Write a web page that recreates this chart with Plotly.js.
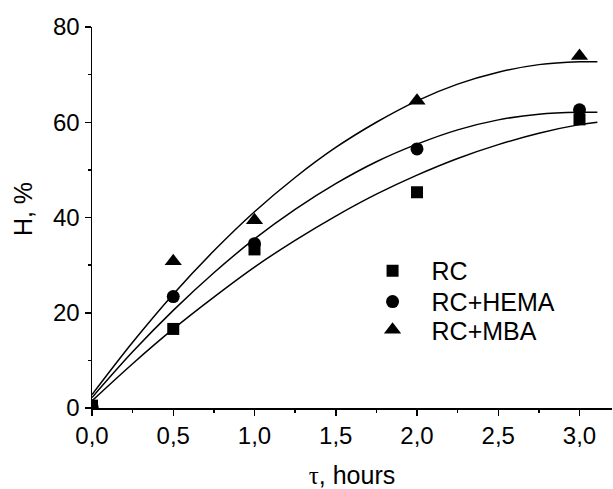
<!DOCTYPE html>
<html>
<head>
<meta charset="utf-8">
<script src="https://cdn.plot.ly/plotly-3.0.1.min.js"></script>
<style>html,body{margin:0;padding:0;background:#fff;}#chart{width:613px;height:489px;}</style>
</head>
<body>
<div id="chart"></div>
<script>
// Measured points
const timeHours = [0, 0.5, 1.0, 2.0, 3.0];
const hRC = [0.5, 16.6, 33.3, 45.3, 60.6];
const hHEMA = [0.3, 23.4, 34.5, 54.4, 62.6];
const hMBA = [0.3, 30.8, 39.4, 64.5, 73.9];

// Fitted curves
const curveX = [0, 0.25, 0.5, 0.75, 1.0, 1.25, 1.5, 1.75, 2.0, 2.25, 2.5, 2.75, 3.0, 3.11];
const curveRC = [1.5, 9.3, 16.6, 23.3, 29.6, 35.2, 40.3, 44.9, 48.9, 52.4, 55.3, 57.7, 59.5, 60.0];
const curveHEMA = [2.2, 11.8, 20.5, 28.4, 35.5, 41.7, 47.1, 51.7, 55.4, 58.4, 60.5, 61.7, 62.1, 62.1];
const curveMBA = [2.8, 13.8, 23.9, 33.0, 41.2, 48.4, 54.7, 60.0, 64.5, 68.0, 70.5, 72.1, 72.7, 72.7];

const seriesNames = ['RC', 'RC+HEMA', 'RC+MBA'];

const xTickVals = [0, 0.5, 1.0, 1.5, 2.0, 2.5, 3.0];
const xTickText = ['0,0', '0,5', '1,0', '1,5', '2,0', '2,5', '3,0'];
const yTickVals = [0, 20, 40, 60, 80];
const yTickText = ['0', '20', '40', '60', '80'];

const lineStyle = {color: '#000', width: 1.5, shape: 'spline'};
const traces = [
  {x: curveX, y: curveRC, mode: 'lines', line: lineStyle, showlegend: false, hoverinfo: 'skip'},
  {x: curveX, y: curveHEMA, mode: 'lines', line: lineStyle, showlegend: false, hoverinfo: 'skip'},
  {x: curveX, y: curveMBA, mode: 'lines', line: lineStyle, showlegend: false, hoverinfo: 'skip'},
  {x: timeHours, y: hRC, mode: 'markers', name: seriesNames[0], legend: 'legend', marker: {symbol: 'square', size: 12, color: '#000'}},
  {x: timeHours, y: hHEMA, mode: 'markers', name: seriesNames[1], legend: 'legend2', marker: {symbol: 'circle', size: 13, color: '#000'}},
  {x: timeHours, y: hMBA, mode: 'markers', name: seriesNames[2], legend: 'legend3', marker: {symbol: 'triangle-up', size: 15, color: '#000'}}
];

const fontFam = '"Liberation Sans", Arial, sans-serif';
function legendAt(y) {
  return {x: 0.503, y: y, xanchor: 'left', yanchor: 'top', bgcolor: 'rgba(0,0,0,0)',
          font: {family: fontFam, size: 25, color: '#000'}, itemwidth: 68};
}
const layout = {
  width: 613, height: 489,
  margin: {l: 92, r: 1, t: 27, b: 81},
  paper_bgcolor: '#fff', plot_bgcolor: '#fff',
  font: {family: fontFam, size: 24, color: '#000'},
  showlegend: true,
  legend: legendAt(0.42),
  legend2: legendAt(0.339),
  legend3: legendAt(0.265),
  xaxis: {
    range: [0, 3.2], showgrid: false, zeroline: false,
    showline: true, linecolor: '#000', linewidth: 1.5,
    ticks: 'outside', ticklen: 6, tickwidth: 1.5, tickcolor: '#000',
    tickvals: xTickVals, ticktext: xTickText,
    minor: {ticks: 'outside', ticklen: 3, tickwidth: 1.5, tickcolor: '#000', dtick: 0.25, showgrid: false},
    tickfont: {size: 24},
    title: {text: '<span style="font-family:\'Liberation Serif\'">τ</span>, hours', font: {size: 25}, standoff: 26}
  },
  yaxis: {
    range: [0, 80], showgrid: false, zeroline: false,
    showline: true, linecolor: '#000', linewidth: 1.5,
    ticks: 'outside', ticklen: 6, tickwidth: 1.5, tickcolor: '#000',
    tickvals: yTickVals, ticktext: yTickText,
    minor: {ticks: 'outside', ticklen: 3, tickwidth: 1.5, tickcolor: '#000', dtick: 10, showgrid: false},
    tickfont: {size: 24}
  },
  annotations: [{
    text: 'H, %', xref: 'paper', yref: 'paper', x: -0.1327, y: 0.522,
    xanchor: 'center', yanchor: 'middle', textangle: -90, showarrow: false,
    font: {family: fontFam, size: 25, color: '#000'}
  }]
};

Plotly.newPlot('chart', traces, layout, {displayModeBar: false, staticPlot: true});
</script>
</body>
</html>
